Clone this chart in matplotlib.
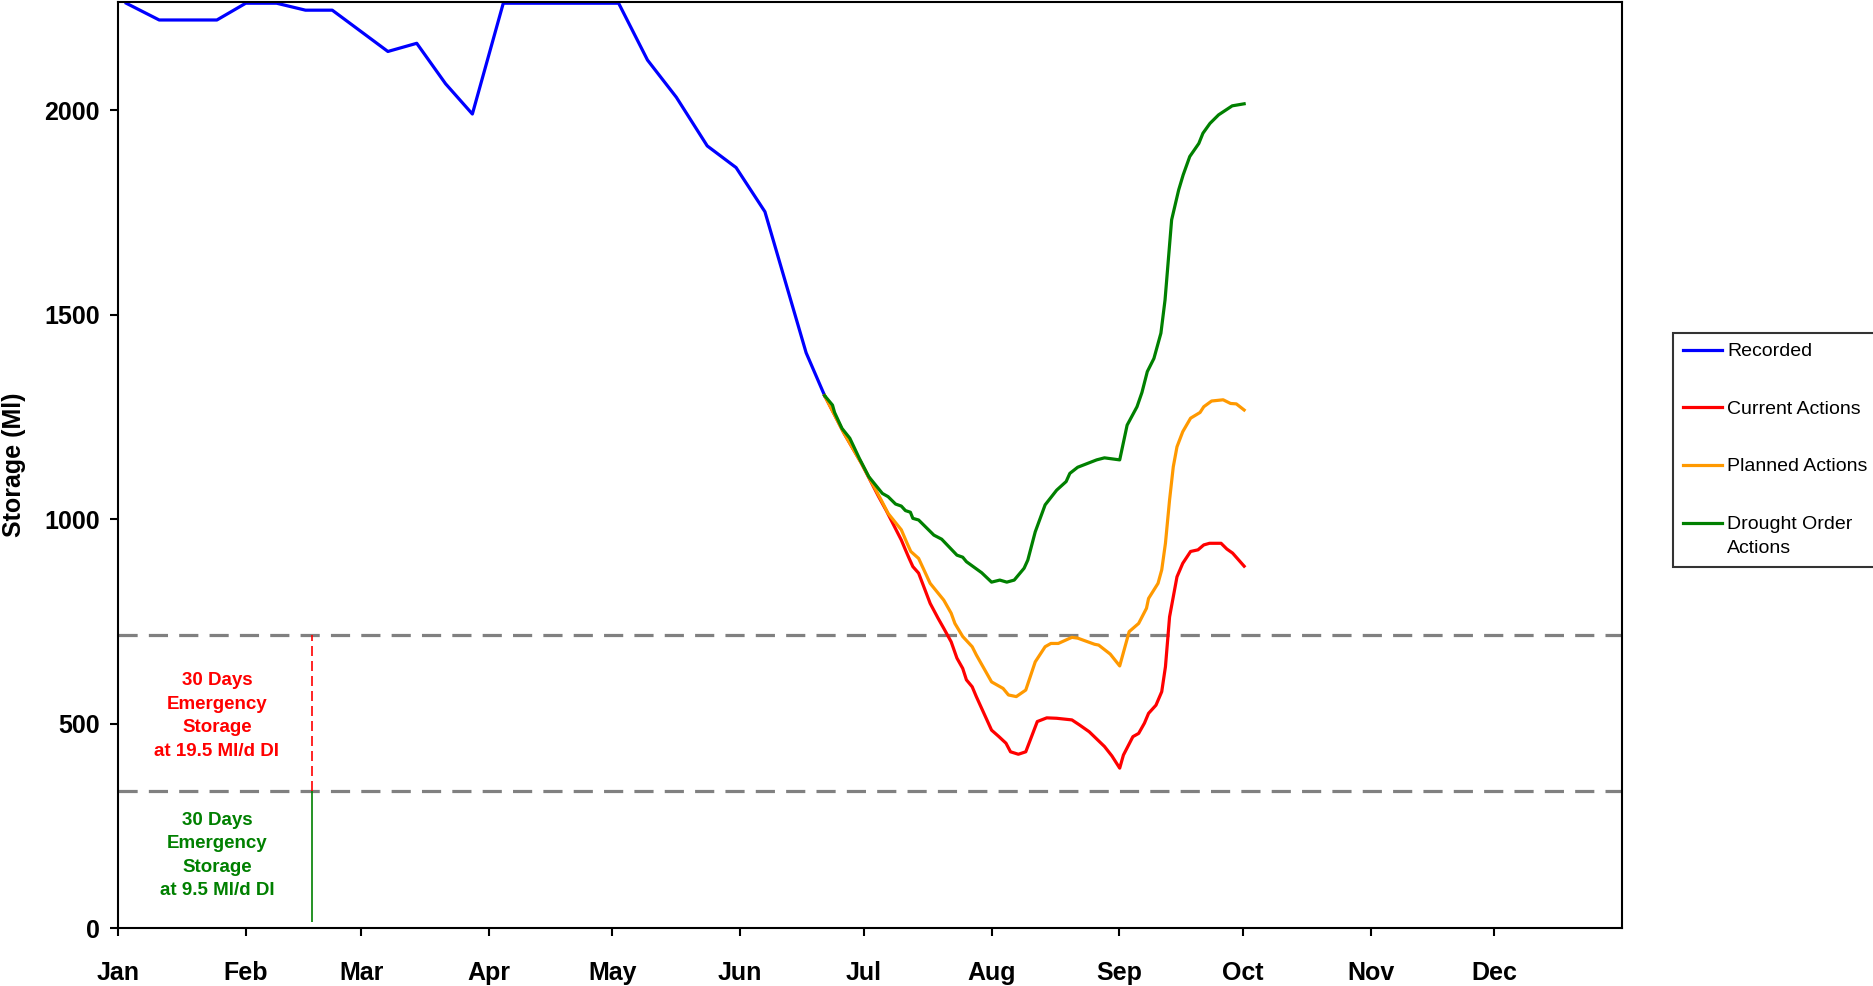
import numpy as np
import matplotlib.pyplot as plt

plt.rcParams['font.family'] = ['Liberation Sans', 'DejaVu Sans']

# month ticks (day of year at start of each month)
month_days = [0, 31, 59, 90, 120, 151, 181, 212, 243, 273, 304, 334]
month_labels = ['Jan', 'Feb', 'Mar', 'Apr', 'May', 'Jun',
                'Jul', 'Aug', 'Sep', 'Oct', 'Nov', 'Dec']

# recorded storage (Ml)
rec_days = [2, 10, 24, 31, 38.5, 45.5, 52, 65.5, 72.5, 79.5, 86, 93.5,
            121.5, 128.5, 135.5, 143, 150, 157, 167, 171.5]
rec_vals = [2262, 2221, 2221, 2262, 2262, 2245, 2245, 2144, 2164, 2065, 1991, 2262,
            2262, 2123, 2032, 1913, 1860, 1752, 1407, 1302]

# current actions forecast
cur_days = [171.5, 176.2, 180.4, 184.6, 186.4, 190.1, 191.1, 192.0, 192.9, 194.3,
            197.1, 199.0, 200.4, 202.2, 203.6, 205.0, 205.9, 207.3, 208.3, 212.0,
            213.8, 215.5, 216.6, 218.5, 220.3, 223.1, 225.4, 227.8, 231.5, 233.3,
            235.7, 239.4, 241.2, 243.1, 244.0, 246.3, 247.7, 249.1, 250.1, 251.9,
            253.3, 254.2, 255.2, 256.1, 257.0, 258.4, 260.3, 262.1, 263.5, 264.9,
            267.7, 269.1, 270.5, 273.3]
cur_vals = [1302, 1210, 1137, 1055, 1022, 949, 925, 904, 884, 868,
            794, 758, 733, 700, 660, 635, 607, 590, 566, 484,
            468, 452, 431, 425, 431, 505, 514, 513, 509, 497,
            480, 444, 421, 391, 423, 468, 476, 501, 525, 545,
            578, 639, 761, 810, 859, 892, 921, 925, 937, 941,
            941, 927, 917, 885]

# planned actions forecast
plan_days = [171.5, 176.2, 180.4, 185.0, 186.9, 190.1, 191.5, 192.4, 194.3, 197.1,
             200.4, 202.2, 203.1, 205.0, 207.3, 208.3, 212.0, 214.8, 216.1, 218.0,
             220.3, 222.6, 225.0, 226.4, 228.2, 231.5, 232.9, 237.0, 238.0, 240.8,
             243.1, 245.4, 247.7, 249.6, 250.1, 252.4, 253.3, 254.2, 255.2, 256.1,
             257.0, 258.4, 260.3, 262.6, 263.5, 265.4, 268.2, 270.0, 271.4, 273.3]
plan_vals = [1302, 1210, 1137, 1051, 1014, 974, 941, 921, 904, 843,
             802, 770, 745, 713, 688, 668, 602, 586, 570, 566,
             582, 651, 688, 696, 696, 711, 709, 694, 692, 670,
             641, 725, 745, 782, 806, 843, 876, 941, 1047, 1128,
             1177, 1214, 1247, 1261, 1275, 1289, 1292, 1283, 1282, 1267]

# drought order actions forecast
dro_days = [171.5, 173.4, 173.9, 175.7, 177.6, 179.9, 182.2, 185.5, 186.9, 188.7,
            190.1, 191.1, 192.3, 192.9, 194.3, 198.0, 199.9, 203.6, 205.0, 205.9,
            209.6, 212.0, 214.0, 215.7, 217.5, 219.9, 220.8, 222.6, 225.0, 227.8,
            230.1, 231.0, 232.9, 237.5, 239.4, 243.1, 244.9, 247.3, 248.5, 249.8,
            251.4, 253.1, 254.1, 255.7, 257.4, 258.5, 260.1, 262.3, 263.3, 265.0,
            267.1, 270.4, 273.3]
dro_vals = [1302, 1279, 1261, 1222, 1198, 1149, 1104, 1063, 1055, 1037,
            1032, 1021, 1017, 1002, 998, 961, 951, 912, 907, 896,
            869, 846, 851, 846, 851, 880, 900, 969, 1035, 1071,
            1092, 1112, 1127, 1145, 1150, 1145, 1230, 1275, 1310, 1361,
            1393, 1455, 1536, 1732, 1805, 1842, 1887, 1919, 1944, 1968,
            1989, 2011, 2016]

# emergency storage levels
emerg_high = 717
emerg_low = 336
marker_day = 47

fig = plt.figure(figsize=(18.74, 9.86), dpi=100)
ax = fig.add_axes([118 / 1874, 1 - 928 / 986, (1622 - 118) / 1874, 926 / 986])

ax.axhline(emerg_high, color='#808080', lw=2.3, ls=(0, (6, 3.5)))
ax.axhline(emerg_low, color='#808080', lw=2.3, ls=(0, (6, 3.5)))
ax.vlines(marker_day, emerg_low, emerg_high, color='#ff0000', lw=1.2, ls=(0, (6, 3)))
ax.vlines(marker_day, 15, emerg_low, color='#008000', lw=1.2)

ax.plot(rec_days, rec_vals, color='#0000ff', lw=2.3, label='Recorded')
ax.plot(cur_days, cur_vals, color='#ff0000', lw=2.3, label='Current Actions')
ax.plot(plan_days, plan_vals, color='#ff9900', lw=2.3, label='Planned Actions')
ax.plot(dro_days, dro_vals, color='#008000', lw=2.3, label='Drought Order\nActions')

ax.text(24, 519, '30 Days\nEmergency\nStorage\nat 19.5 Ml/d DI', color='#ff0000',
        fontsize=13.5, fontweight='bold', ha='center', va='center', linespacing=1.5)
ax.text(24, 177, '30 Days\nEmergency\nStorage\nat 9.5 Ml/d DI', color='#008000',
        fontsize=13.5, fontweight='bold', ha='center', va='center', linespacing=1.5)

ax.set_xlim(0, 365)
ax.set_ylim(0, 2265)
ax.set_xticks(month_days)
ax.set_xticklabels(month_labels)
ax.set_yticks([0, 500, 1000, 1500, 2000])
ax.tick_params(axis='both', direction='out', length=6, width=1.5, labelsize=18)
ax.tick_params(axis='x', pad=18)
ax.tick_params(axis='y', pad=7)
for lab in ax.get_xticklabels() + ax.get_yticklabels():
    lab.set_fontweight('bold')
for s in ax.spines.values():
    s.set_linewidth(1.5)
ax.set_ylabel('Storage (Ml)', fontsize=18, fontweight='bold')
ax.yaxis.set_label_coords(-0.061, 0.5)

leg = ax.legend(loc='upper left', bbox_to_anchor=(1673 / 1874, 1 - 333 / 986),
                bbox_transform=fig.transFigure, borderaxespad=0, fontsize=14,
                frameon=True, fancybox=False, edgecolor='black', handlelength=2.0,
                handletextpad=0.3, labelspacing=2.1, borderpad=0.5)
leg.get_frame().set_linewidth(1.5)
for t in leg.get_texts():
    t.set_linespacing(1.55)
# line handle next to the first line of a two-line label
for row in leg._legend_handle_box.get_children()[0].get_children():
    row.align = 'top'

fig.savefig('out.png', dpi=100)
